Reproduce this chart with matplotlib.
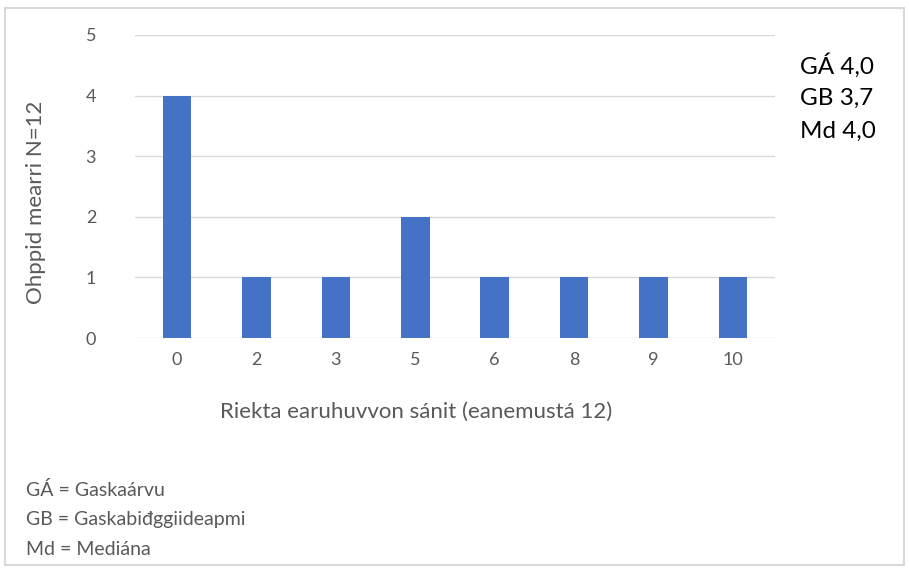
import matplotlib.pyplot as plt
from matplotlib.patches import Rectangle

# data
categories = ["0", "2", "3", "5", "6", "8", "9", "10"]
counts = [4, 1, 1, 2, 1, 1, 1, 1]
stats_lines = ["GÁ 4,0", "GB 3,7", "Md 4,0"]
notes = ["GÁ = Gaskaárvu", "GB = Gaskabiđggiideapmi", "Md = Mediána"]

plt.rcParams["font.family"] = ["Lato", "DejaVu Sans"]

fig = plt.figure(figsize=(9.09, 5.72), dpi=100)
ax = fig.add_axes([0.1485, 0.409, 0.704, 0.530])

x = range(len(categories))
ax.bar(x, counts, width=0.36, color="#4472C4", zorder=3)
ax.set_xlim(-0.53, len(categories) - 0.47)
ax.set_ylim(0, 5)
ax.set_yticks(range(6))
ax.set_xticks(list(x))
ax.set_xticklabels(categories)
ax.yaxis.grid(True, color="#d9d9d9", linewidth=1, zorder=0)
for s in ax.spines.values():
    s.set_visible(False)
ax.tick_params(axis="both", length=0, labelsize=13, labelcolor="#595959")
ax.tick_params(axis="y", pad=28)
ax.tick_params(axis="x", pad=10)
ax.set_xlabel("Riekta earuhuvvon sánit (eanemustá 12)", fontsize=16, color="#595959")
ax.xaxis.set_label_coords(0.439, -0.212)
ax.set_ylabel("Ohppid mearri N=12", fontsize=16, color="#595959")
ax.yaxis.set_label_coords(-0.139, 0.449)

# stats box on the right
for i, t in enumerate(stats_lines):
    fig.text(0.88, 0.886 - i * 0.058, t, fontsize=17.5, color="black", va="center", ha="left")

# notes at bottom
for i, t in enumerate(notes):
    fig.text(0.029, 0.143 - i * 0.052, t, fontsize=14, color="#595959", va="center", ha="left")

# outer frame
fig.patches.append(Rectangle((0.006, 0.012), 0.988, 0.974, transform=fig.transFigure,
                             fill=False, edgecolor="#d9d9d9", linewidth=1.5))

plt.savefig("out.png", dpi=100)
